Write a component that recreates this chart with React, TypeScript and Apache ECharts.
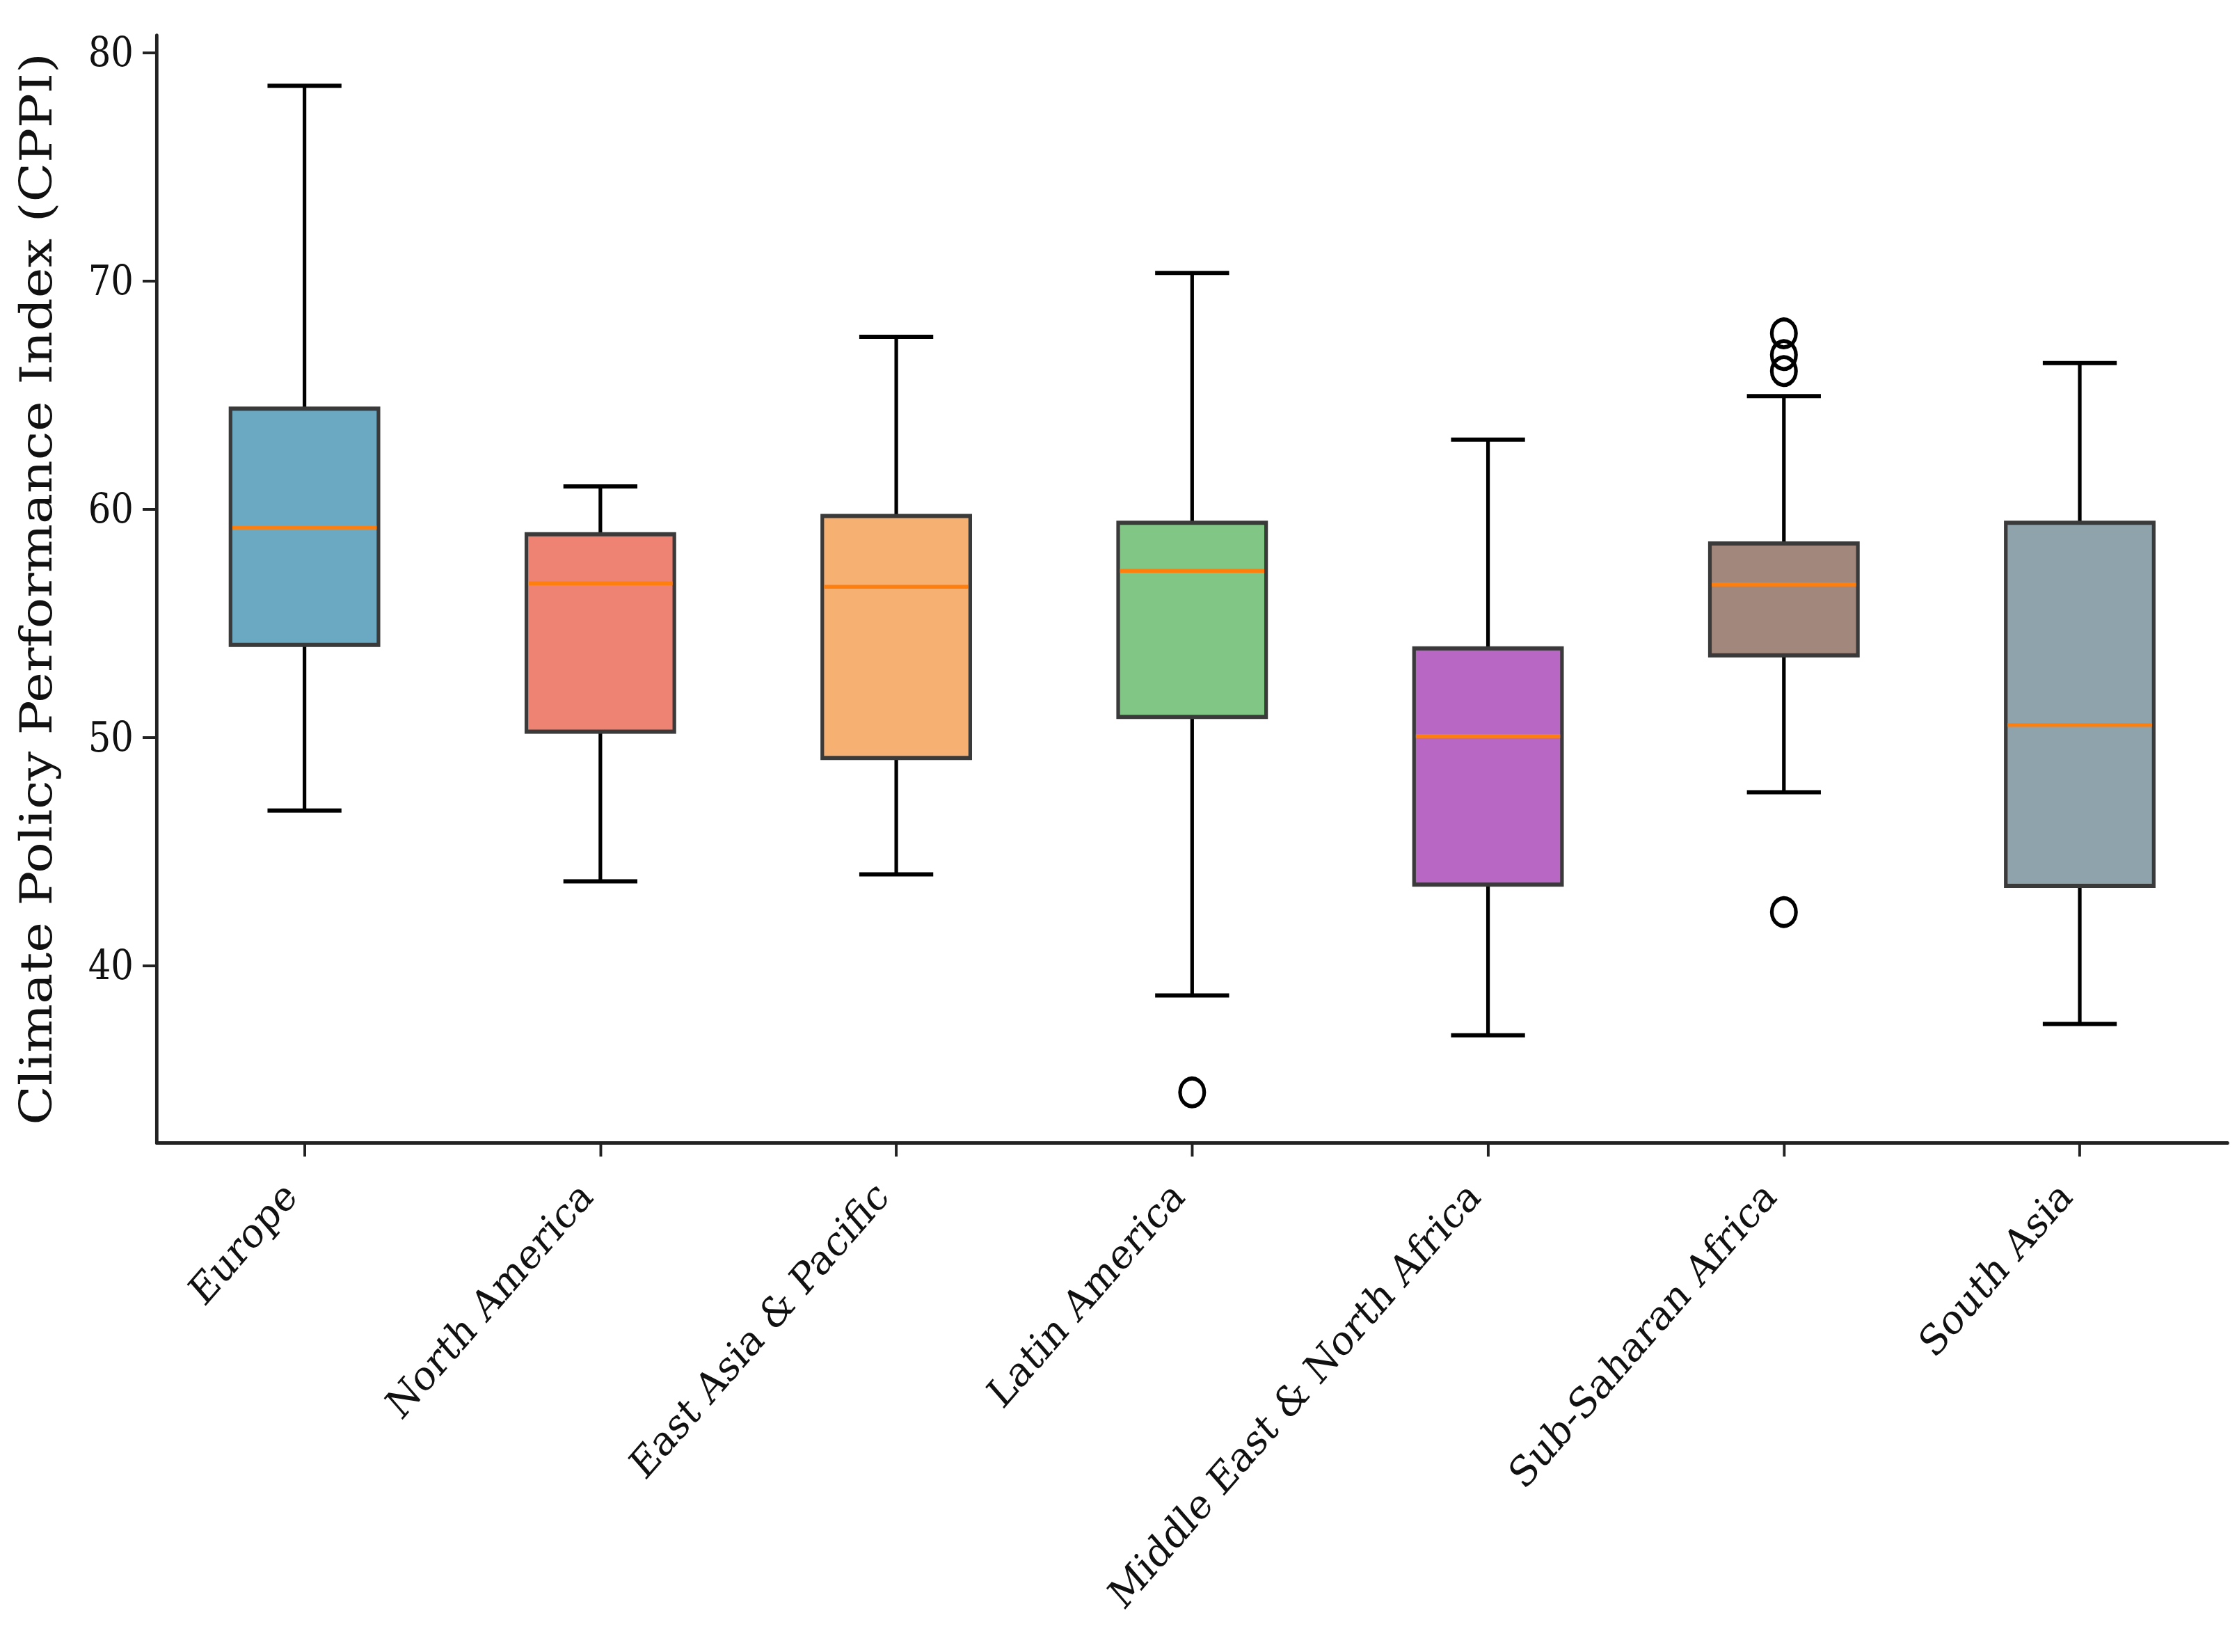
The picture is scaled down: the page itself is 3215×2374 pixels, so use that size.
import React, { useEffect, useRef } from "react";
import * as echarts from "echarts";

const categories = [
  "Europe",
  "North America",
  "East Asia & Pacific",
  "Latin America",
  "Middle East & North Africa",
  "Sub-Saharan Africa",
  "South Asia",
];
const whiskerLow = [46.8, 43.7, 44.0, 38.7, 36.95, 47.6, 37.45];
const q1 = [54.05, 50.25, 49.1, 50.9, 43.55, 53.6, 43.5];
const median = [59.2, 56.75, 56.6, 57.3, 50.05, 56.7, 50.55];
const q3 = [64.4, 58.9, 59.7, 59.4, 53.9, 58.5, 59.4];
const whiskerHigh = [78.55, 61.0, 67.55, 70.35, 63.05, 64.95, 66.4];
const outlierCategory = [3, 5, 5, 5, 5];
const outlierValue = [34.45, 67.7, 66.75, 66.05, 42.35];
const boxColors = ["#6BA9C3", "#EE8273", "#F5B072", "#82C686", "#B868C4", "#A2877C", "#8EA3AB"];
const yTicks = [40, 50, 60, 70, 80];
const yTitle = "Climate Policy Performance Index (CPPI)";

const FONT = "'DejaVu Serif', serif";
// the reference figure is drawn slightly narrower than tall (horizontal squeeze)
const SQUEEZE = 0.87;
const PAGE_W = 3215;
const PAGE_H = 2374;
const W = PAGE_W / SQUEEZE;

export default function App() {
  const ref = useRef<HTMLDivElement>(null);
  useEffect(() => {
    if (!ref.current) return;
    const chart = echarts.init(ref.current, null, { renderer: "svg" });
    const boxData = categories.map((_, i) => [i, whiskerLow[i], q1[i], median[i], q3[i], whiskerHigh[i]]);
    const outlierData = outlierCategory.map((c, i) => [c, outlierValue[i]]);
    chart.setOption({
      animation: false,
      backgroundColor: "#ffffff",
      grid: { left: 225 / SQUEEZE, right: 13 / SQUEEZE, top: 51, bottom: 732, containLabel: false },
      xAxis: {
        type: "category",
        data: categories,
        boundaryGap: true,
        axisLine: { show: true, lineStyle: { color: "#222", width: 5 } },
        axisTick: { show: true, alignWithLabel: true, length: 20, lineStyle: { color: "#222", width: 4.5 } },
        axisLabel: {
          rotate: 45,
          interval: 0,
          fontSize: 60,
          fontFamily: FONT,
          color: "#111",
          margin: 42,
          padding: [0, 34, 0, 0],
        },
        splitLine: { show: false },
      },
      yAxis: {
        type: "value",
        min: 32.25,
        max: 80.75,
        name: yTitle,
        nameLocation: "middle",
        nameGap: 162,
        nameTextStyle: { fontSize: 74, fontFamily: FONT, color: "#111" },
        axisLine: { show: true, lineStyle: { color: "#222", width: 5.5 } },
        axisTick: { show: true, customValues: yTicks, length: 23, lineStyle: { color: "#222", width: 4 } },
        axisLabel: { customValues: yTicks, fontSize: 59, fontFamily: FONT, color: "#111", margin: 38 },
        splitLine: { show: false },
      },
      series: [
        {
          type: "custom",
          data: boxData,
          encode: { x: 0, y: [1, 2, 3, 4, 5] },
          renderItem: (params: any, api: any) => {
            const x = api.value(0);
            const idx = params.dataIndex;
            const lo = api.coord([x, api.value(1)]);
            const pq1 = api.coord([x, api.value(2)]);
            const pmed = api.coord([x, api.value(3)]);
            const pq3 = api.coord([x, api.value(4)]);
            const hi = api.coord([x, api.value(5)]);
            const bw = api.size([1, 0])[0] * 0.5;
            const cw = bw * 0.5;
            const cx = lo[0];
            const black = { stroke: "#000", lineWidth: 6 };
            return {
              type: "group",
              children: [
                { type: "line", shape: { x1: cx, y1: lo[1], x2: cx, y2: pq1[1] }, style: black },
                { type: "line", shape: { x1: cx, y1: pq3[1], x2: cx, y2: hi[1] }, style: black },
                { type: "line", shape: { x1: cx - cw / 2, y1: lo[1], x2: cx + cw / 2, y2: lo[1] }, style: black },
                { type: "line", shape: { x1: cx - cw / 2, y1: hi[1], x2: cx + cw / 2, y2: hi[1] }, style: black },
                {
                  type: "rect",
                  shape: { x: cx - bw / 2, y: pq3[1], width: bw, height: pq1[1] - pq3[1] },
                  style: { fill: boxColors[idx], stroke: "#3a3a3a", lineWidth: 6 },
                },
                {
                  type: "line",
                  shape: { x1: cx - bw / 2 + 3, y1: pmed[1], x2: cx + bw / 2 - 3, y2: pmed[1] },
                  style: { stroke: "#ff7f0e", lineWidth: 5.5 },
                },
              ],
            };
          },
          z: 2,
        },
        {
          type: "scatter",
          data: outlierData,
          symbol: "circle",
          symbolSize: 40,
          itemStyle: { color: "rgba(0,0,0,0)", borderColor: "#000", borderWidth: 6, opacity: 1 },
          z: 3,
        },
      ],
    });
    return () => chart.dispose();
  }, []);
  return (
    <div style={{ position: "fixed", left: 0, top: 0, width: PAGE_W, height: PAGE_H, overflow: "hidden", background: "#fff" }}>
      <div
        ref={ref}
        style={{ width: W, height: PAGE_H, transform: `scaleX(${SQUEEZE})`, transformOrigin: "left top" }}
      />
    </div>
  );
}
